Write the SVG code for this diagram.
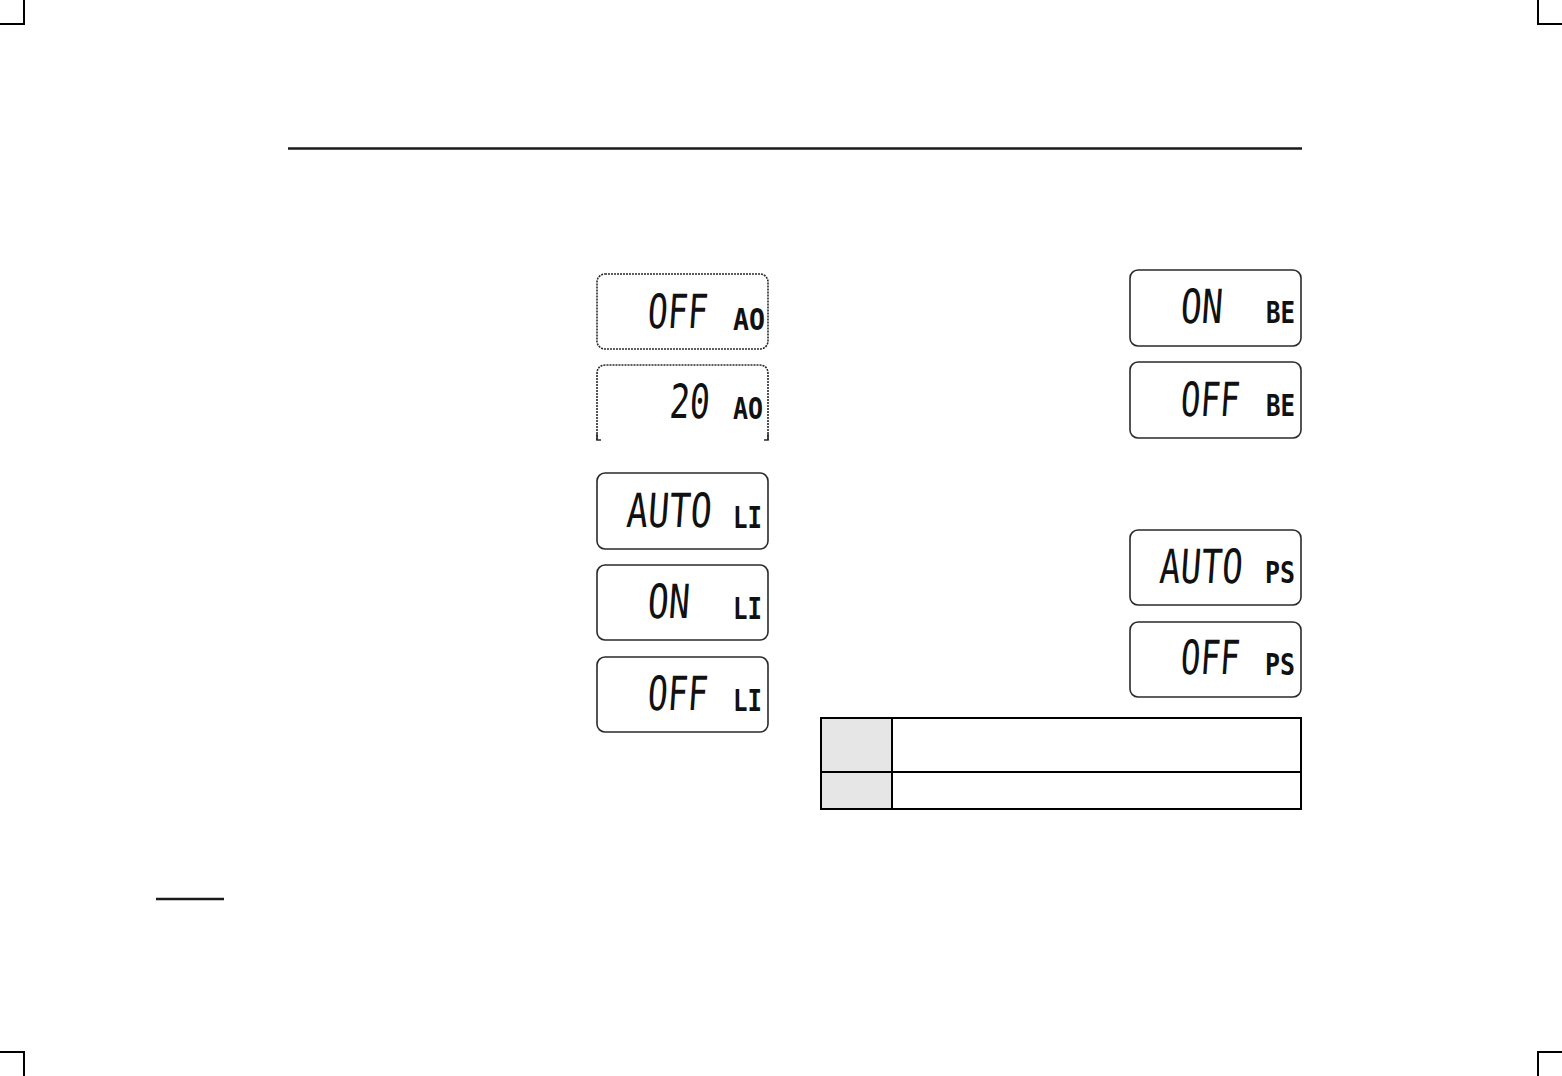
<svg xmlns="http://www.w3.org/2000/svg" width="1562" height="1076" viewBox="0 0 1562 1076">
<style>
.crop{stroke:#000;stroke-width:2;fill:none}
.rule{stroke:#1a1a1a;stroke-width:2.5}
.lcd{fill:#fff;stroke:#2a2a2a;stroke-width:1.6}
.big{font-family:"DejaVu Sans Mono",monospace;font-size:47px;fill:#111}
.sm{font-family:"DejaVu Sans Mono",monospace;font-size:31px;font-weight:bold;fill:#111}
.tbl{stroke:#000;stroke-width:2;fill:none}
</style>
<rect width="1562" height="1076" fill="#fff"/>
<g id="crop-marks">
<path class="crop" d="M24,0 V24 H0"/>
<path class="crop" d="M1538,0 V24 H1562"/>
<path class="crop" d="M0,1052 H24 V1076"/>
<path class="crop" d="M1562,1052 H1538 V1076"/>
</g>
<line class="rule" x1="288" y1="148.5" x2="1302" y2="148.5"/>
<line class="rule" x1="156" y1="899" x2="224" y2="899"/>
<g id="lcd-ao-off">
<rect class="lcd" x="597" y="274" width="171" height="75" rx="8" stroke-dasharray="2 1"/>
<text class="big" x="648" y="328" textLength="60" lengthAdjust="spacingAndGlyphs" transform="skewX(-4)" transform-origin="678 310">OFF</text>
<text class="sm" x="733" y="330" textLength="32" lengthAdjust="spacingAndGlyphs">AO</text>
</g>
<g id="lcd-ao-20">
<path class="lcd" d="M597,440 V374 Q597,365 606,365 H759 Q768,365 768,374 V440" stroke-dasharray="2 1"/>
<path d="M597,434 V440 H601 M768,434 V440 H764" stroke="#2a2a2a" stroke-width="1.6" fill="none"/>
<text class="big" x="670" y="418" textLength="40" lengthAdjust="spacingAndGlyphs" transform="skewX(-4)" transform-origin="690 400">20</text>
<text class="sm" x="733" y="419" textLength="30" lengthAdjust="spacingAndGlyphs">AO</text>
</g>
<g id="lcd-li-auto">
<rect class="lcd" x="597" y="473" width="171" height="76" rx="8"/>
<text class="big" x="627" y="527" textLength="85" lengthAdjust="spacingAndGlyphs" transform="skewX(-4)" transform-origin="670 510">AUTO</text>
<text class="sm" x="733" y="528" textLength="29" lengthAdjust="spacingAndGlyphs">LI</text>
</g>
<g id="lcd-li-on">
<rect class="lcd" x="597" y="565" width="171" height="75" rx="8"/>
<text class="big" x="648" y="618" textLength="42" lengthAdjust="spacingAndGlyphs" transform="skewX(-4)" transform-origin="670 600">ON</text>
<text class="sm" x="733" y="619" textLength="29" lengthAdjust="spacingAndGlyphs">LI</text>
</g>
<g id="lcd-li-off">
<rect class="lcd" x="597" y="657" width="171" height="75" rx="8"/>
<text class="big" x="648" y="710" textLength="60" lengthAdjust="spacingAndGlyphs" transform="skewX(-4)" transform-origin="678 692">OFF</text>
<text class="sm" x="733" y="711" textLength="29" lengthAdjust="spacingAndGlyphs">LI</text>
</g>
<g id="lcd-be-on">
<rect class="lcd" x="1130" y="270" width="171" height="76" rx="8"/>
<text class="big" x="1181" y="323" textLength="42" lengthAdjust="spacingAndGlyphs" transform="skewX(-4)" transform-origin="1202 305">ON</text>
<text class="sm" x="1266" y="323" textLength="29" lengthAdjust="spacingAndGlyphs">BE</text>
</g>
<g id="lcd-be-off">
<rect class="lcd" x="1130" y="362" width="171" height="76" rx="8"/>
<text class="big" x="1181" y="416" textLength="59" lengthAdjust="spacingAndGlyphs" transform="skewX(-4)" transform-origin="1210 398">OFF</text>
<text class="sm" x="1266" y="416" textLength="29" lengthAdjust="spacingAndGlyphs">BE</text>
</g>
<g id="lcd-ps-auto">
<rect class="lcd" x="1130" y="530" width="171" height="75" rx="8"/>
<text class="big" x="1160" y="583" textLength="83" lengthAdjust="spacingAndGlyphs" transform="skewX(-4)" transform-origin="1200 565">AUTO</text>
<text class="sm" x="1265" y="583" textLength="30" lengthAdjust="spacingAndGlyphs">PS</text>
</g>
<g id="lcd-ps-off">
<rect class="lcd" x="1130" y="622" width="171" height="75" rx="8"/>
<text class="big" x="1181" y="674" textLength="59" lengthAdjust="spacingAndGlyphs" transform="skewX(-4)" transform-origin="1210 656">OFF</text>
<text class="sm" x="1265" y="675" textLength="30" lengthAdjust="spacingAndGlyphs">PS</text>
</g>
<g id="table">
<rect x="821" y="718" width="71" height="91" fill="#e6e6e6"/>
<rect class="tbl" x="821" y="718" width="480" height="91"/>
<line class="tbl" x1="892" y1="718" x2="892" y2="809"/>
<line class="tbl" x1="821" y1="772" x2="1301" y2="772"/>
</g>
</svg>
